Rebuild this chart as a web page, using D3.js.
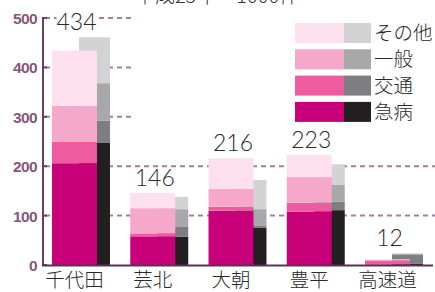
<!DOCTYPE html>
<html>
<head>
<meta charset="utf-8">
<script src="https://cdn.jsdelivr.net/npm/d3@7"></script>
<style>
  body { margin: 0; background: #fff; }
  svg { display: block; }
</style>
</head>
<body>
<svg id="chart" width="435" height="292"></svg>
<script>
// categories and series
var categories = ["千代田", "芸北", "大朝", "豊平", "高速道"];
var seriesNames = ["急病", "交通", "一般", "その他"];   // bottom to top
var totals = [434, 146, 216, 223, 12];

// this year (pink), one array per series
var curKyubyo = [206, 58, 110, 108, 1];
var curKotsu  = [43, 6, 8, 18, 8];
var curIppan  = [73, 51, 36, 52, 2];
var curSonota = [112, 31, 62, 45, 1];

// previous year (gray)
var prevKyubyo = [247, 57, 75, 111, 3];
var prevKotsu  = [45, 20, 4, 17, 18];
var prevIppan  = [76, 36, 34, 34, 2];
var prevSonota = [93, 25, 59, 42, 1];

var yTicks = [0, 100, 200, 300, 400, 500];
var title = "平成25年　1000件";

var pinkColors = ["#c8007a", "#ee5b9f", "#f6a8cb", "#fde0ee"];
var grayColors = ["#231f20", "#7e7e80", "#a8a8aa", "#d3d3d5"];

var svg = d3.select("#chart");
var W = 435, H = 292;

//scales
var x = d3.scaleBand()
  .domain(categories)
  .range([52, 423])
  .paddingInner(0.259)
  .paddingOuter(0);

var y = d3.scaleLinear()
  .domain([0, 500])
  .range([265, 18]);

var bw = x.bandwidth();
var pinkW = bw * 0.776;
var grayX0 = bw * 0.466;

function stackUp(arrays) {
  var rows = categories.map(function (c, i) {
    var r = { cat: c };
    seriesNames.forEach(function (s, k) { r[s] = arrays[k][i]; });
    return r;
  });
  return d3.stack().keys(seriesNames)(rows);
}

var curStack = stackUp([curKyubyo, curKotsu, curIppan, curSonota]);
var prevStack = stackUp([prevKyubyo, prevKotsu, prevIppan, prevSonota]);

//dashed gridlines behind everything
svg.append("g")
  .selectAll("line")
  .data(yTicks.filter(function (d) { return d > 0; }))
  .enter().append("line")
  .attr("x1", 45).attr("x2", W)
  .attr("y1", function (d) { return y(d); })
  .attr("y2", function (d) { return y(d); })
  .attr("stroke", "#a97d9c")
  .attr("stroke-width", 2)
  .attr("stroke-dasharray", "5,4");

//gray bars (behind)
svg.append("g")
  .selectAll("g")
  .data(prevStack)
  .enter().append("g")
  .attr("fill", function (d, i) { return grayColors[i]; })
  .selectAll("rect")
  .data(function (d) { return d; })
  .enter().append("rect")
  .attr("x", function (d) { return x(d.data.cat) + grayX0; })
  .attr("width", bw - grayX0)
  .attr("y", function (d) { return y(d[1]); })
  .attr("height", function (d) { return y(d[0]) - y(d[1]); });

//pink bars
svg.append("g")
  .selectAll("g")
  .data(curStack)
  .enter().append("g")
  .attr("fill", function (d, i) { return pinkColors[i]; })
  .selectAll("rect")
  .data(function (d) { return d; })
  .enter().append("rect")
  .attr("x", function (d) { return x(d.data.cat); })
  .attr("width", pinkW)
  .attr("y", function (d) { return y(d[1]); })
  .attr("height", function (d) { return y(d[0]) - y(d[1]); });

//white box behind title + legend
svg.append("rect")
  .attr("x", 131).attr("y", 0)
  .attr("width", W - 131).attr("height", 126)
  .attr("fill", "#fff");

svg.append("text")
  .attr("x", 217).attr("y", 3)
  .attr("text-anchor", "middle")
  .attr("font-family", "'Noto Sans CJK JP', sans-serif")
  .attr("font-weight", 300)
  .attr("font-size", 20)
  .attr("fill", "#333")
  .text(title);

//value labels
var prevTotals = categories.map(function (c, i) {
  return prevKyubyo[i] + prevKotsu[i] + prevIppan[i] + prevSonota[i];
});

var labels = svg.append("g")
  .selectAll("g")
  .data(categories)
  .enter().append("g")
  .attr("transform", function (c, i) {
    var top = Math.max(totals[i], prevTotals[i]);
    return "translate(" + (x(c) + pinkW / 2 + 2) + "," + (y(top) - 7) + ")";
  });

labels.append("rect")
  .attr("x", -20).attr("y", -17)
  .attr("width", 40).attr("height", 19)
  .attr("fill", "#fff");

labels.append("text")
  .attr("text-anchor", "middle")
  .attr("font-family", "Lato, 'Noto Sans', sans-serif")
  .attr("font-weight", 300)
  .attr("font-size", 23)
  .attr("fill", "#2a2a2a")
  .text(function (c, i) { return totals[i]; });

//y axis
var axisColor = "#6e3d61";
svg.append("line")
  .attr("x1", 43).attr("x2", 43)
  .attr("y1", y(500) - 1).attr("y2", y(0))
  .attr("stroke", axisColor).attr("stroke-width", 2);

svg.append("g")
  .selectAll("line")
  .data(yTicks)
  .enter().append("line")
  .attr("x1", 43).attr("x2", 47)
  .attr("y1", function (d) { return y(d); })
  .attr("y2", function (d) { return y(d); })
  .attr("stroke", axisColor).attr("stroke-width", 2);

svg.append("g")
  .selectAll("text")
  .data(yTicks)
  .enter().append("text")
  .attr("x", 37)
  .attr("y", function (d) { return y(d) + 6; })
  .attr("text-anchor", "end")
  .attr("font-family", "'Liberation Sans', Arial, sans-serif")
  .attr("font-weight", "bold")
  .attr("font-size", 15.5)
  .attr("letter-spacing", -0.6)
  .attr("fill", "#86577a")
  .text(function (d) { return d; });

//baseline
svg.append("line")
  .attr("x1", 42).attr("x2", 433)
  .attr("y1", y(0) + 0.5).attr("y2", y(0) + 0.5)
  .attr("stroke", "#5a3350").attr("stroke-width", 2);

//category labels
svg.append("g")
  .selectAll("text")
  .data(categories)
  .enter().append("text")
  .attr("x", function (c) { return x(c) + pinkW / 2; })
  .attr("y", 287)
  .attr("text-anchor", "middle")
  .attr("font-family", "'Noto Sans CJK JP', sans-serif")
  .attr("font-weight", 300)
  .attr("font-size", 19.5)
  .attr("fill", "#2a2a2a")
  .text(function (c) { return c; });

//legend, top row is the last series
var legendRows = seriesNames.slice().reverse();
var legend = svg.append("g")
  .selectAll("g")
  .data(legendRows)
  .enter().append("g")
  .attr("transform", function (d, i) { return "translate(295," + (23 + i * 26.3) + ")"; });

legend.append("rect")
  .attr("width", 49).attr("height", 20)
  .attr("fill", function (d) { return pinkColors[seriesNames.indexOf(d)]; });

legend.append("rect")
  .attr("x", 49)
  .attr("width", 27).attr("height", 20)
  .attr("fill", function (d) { return grayColors[seriesNames.indexOf(d)]; });

legend.append("text")
  .attr("x", 79).attr("y", 17)
  .attr("font-family", "'Noto Sans CJK JP', sans-serif")
  .attr("font-weight", 300)
  .attr("font-size", 19.5)
  .attr("fill", "#2a2a2a")
  .text(function (d) { return d; });
</script>
</body>
</html>
